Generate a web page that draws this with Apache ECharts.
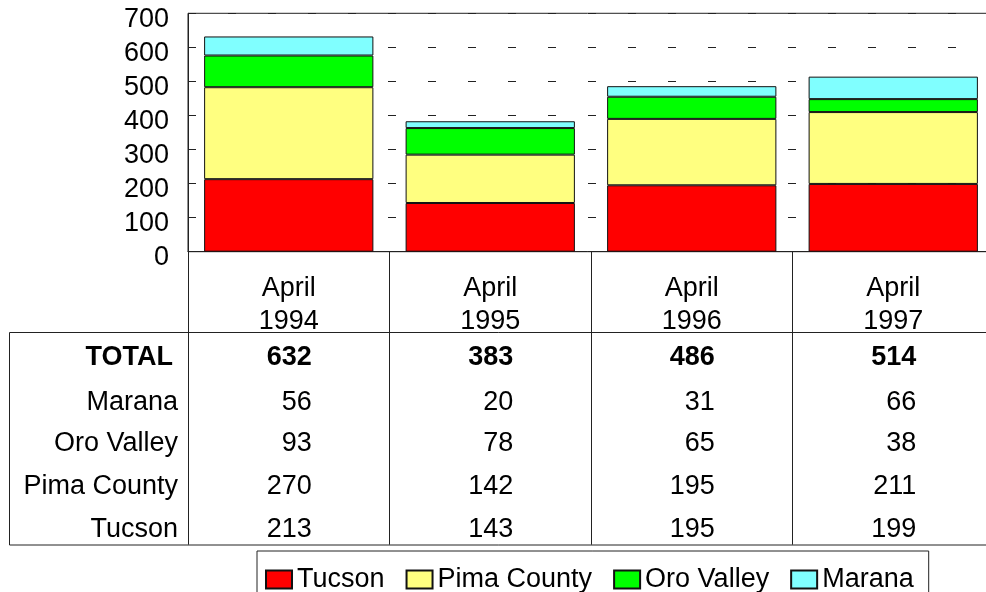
<!DOCTYPE html>
<html>
<head>
<meta charset="utf-8">
<script src="https://cdn.jsdelivr.net/npm/echarts@6/dist/echarts.min.js"></script>
<style>
html,body{margin:0;padding:0;background:#fff;}
#c{width:986px;height:592px;}
</style>
</head>
<body>
<div id="c"></div>
<script>
const categories = ['April\n1994', 'April\n1995', 'April\n1996', 'April\n1997'];
const seriesNames = ['Tucson', 'Pima County', 'Oro Valley', 'Marana'];
const tucson = [213, 143, 195, 199];
const pimaCounty = [270, 142, 195, 211];
const oroValley = [93, 78, 65, 38];
const marana = [56, 20, 31, 66];
const totals = [632, 383, 486, 514];
const tableRowLabels = ['TOTAL', 'Marana', 'Oro Valley', 'Pima County', 'Tucson'];
const tableRowValues = [totals, marana, oroValley, pimaCounty, tucson];
const yMin = 0, yMax = 700, yStep = 100;

const FONT = '"Liberation Sans", Arial, sans-serif';
const colors = ['#FF0000', '#FFFF80', '#00FF00', '#80FFFF'];
const seriesData = [tucson, pimaCounty, oroValley, marana];

const AXIS_Y = 251.7;
const rowCenters = [358, 402.5, 444, 487, 530];

const chart = echarts.init(document.getElementById('c'));

const xAxes = [{
  type: 'category',
  gridIndex: 0,
  data: categories,
  position: 'bottom',
  axisLine: { show: true, lineStyle: { color: '#222', width: 1 } },
  axisTick: { show: true, length: 293, lineStyle: { color: '#222', width: 1 } },
  axisLabel: { show: false }
}, {
  type: 'category',
  gridIndex: 0,
  data: categories,
  position: 'bottom',
  offset: 305.5 - AXIS_Y,
  axisLine: { show: false },
  axisTick: { show: false },
  axisLabel: {
    interval: 0, margin: 0, verticalAlign: 'middle', align: 'center',
    color: '#000', fontFamily: FONT, fontSize: 27, lineHeight: 33
  }
}];
tableRowValues.forEach((vals, r) => {
  xAxes.push({
    type: 'category',
    gridIndex: 0,
    data: categories,
    position: 'bottom',
    offset: rowCenters[r] - AXIS_Y,
    axisLine: { show: false },
    axisTick: { show: false },
    axisLabel: {
      interval: 0, margin: 0, verticalAlign: 'middle',
      formatter: (v, i) => '{n|' + vals[i] + '}',
      rich: {
        n: { width: 46, align: 'right', color: '#000', fontFamily: FONT, fontSize: 27,
             fontWeight: r === 0 ? 'bold' : 'normal' }
      }
    }
  });
});

const graphics = [{
  type: 'rect',
  shape: { x: 9.5, y: 332.5, width: 1000, height: 212.5 },
  style: { fill: 'none', stroke: '#222', lineWidth: 1 },
  z: 10
}];
tableRowLabels.forEach((lab, r) => {
  graphics.push({
    type: 'text',
    style: {
      text: lab, x: r === 0 ? 173 : 178, y: rowCenters[r],
      align: 'right', verticalAlign: 'middle',
      font: (r === 0 ? 'bold ' : '') + '27px ' + FONT, fill: '#000'
    }
  });
});

chart.setOption({
  animation: false,
  backgroundColor: '#fff',
  grid: {
    left: 188, top: 13.3, width: 806, height: AXIS_Y - 13.3,
    outerBoundsMode: 'none', containLabel: false,
    show: true, borderColor: '#222', borderWidth: 1, backgroundColor: 'transparent'
  },
  legend: {
    data: seriesNames,
    left: 257, top: 551,
    padding: [15, 15, 20, 8],
    itemGap: 21, itemWidth: 26, itemHeight: 18,
    borderColor: '#222', borderWidth: 1,
    icon: 'rect',
    textStyle: { color: '#000', fontFamily: FONT, fontSize: 27 }
  },
  xAxis: xAxes,
  yAxis: {
    type: 'value', min: yMin, max: yMax, interval: yStep,
    axisLine: { show: true, lineStyle: { color: '#222', width: 1 } },
    axisTick: { show: false },
    axisLabel: { color: '#000', fontFamily: FONT, fontSize: 27, margin: 19,
                 verticalAlign: 'top', lineHeight: 12 },
    splitLine: { show: true, lineStyle: { color: '#222', width: 1, type: [8, 32] } }
  },
  series: seriesNames.map((name, k) => ({
    name, type: 'bar', stack: 'all', xAxisIndex: 0, yAxisIndex: 0,
    barWidth: '84%',
    data: seriesData[k],
    itemStyle: { color: colors[k], borderColor: '#111', borderWidth: 1 }
  })),
  graphic: graphics
});
</script>
</body>
</html>
